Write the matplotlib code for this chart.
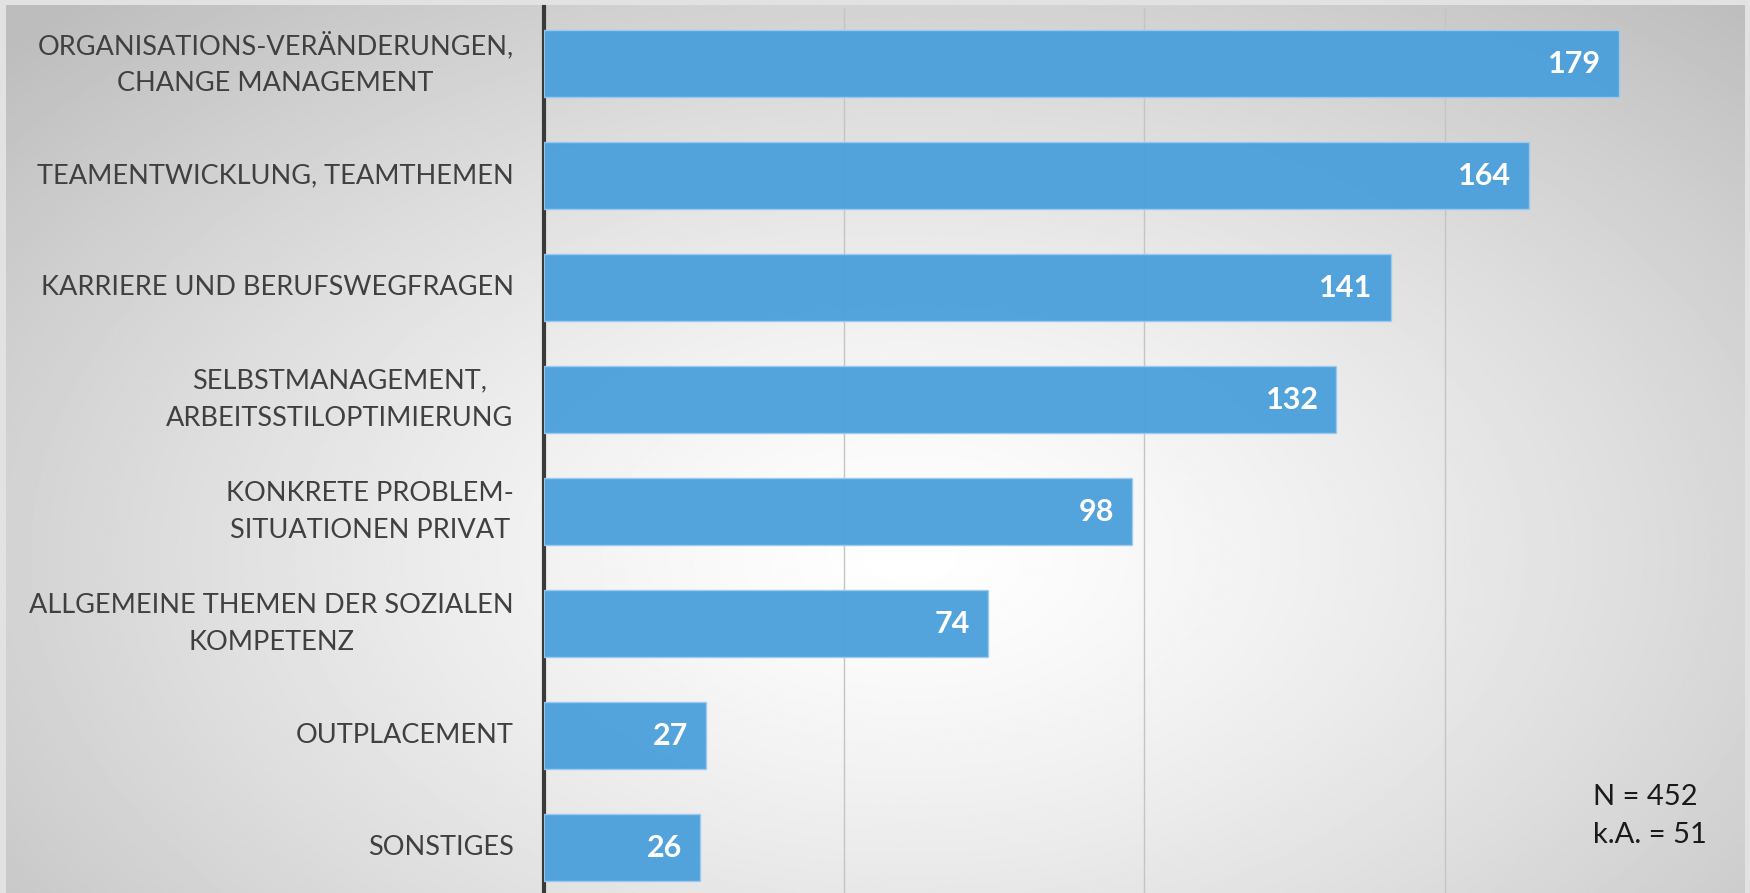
import numpy as np
import matplotlib.pyplot as plt

categories = ['ORGANISATIONS-VERÄNDERUNGEN,\nCHANGE MANAGEMENT',
              'TEAMENTWICKLUNG, TEAMTHEMEN',
              'KARRIERE UND BERUFSWEGFRAGEN',
              'SELBSTMANAGEMENT,\nARBEITSSTILOPTIMIERUNG',
              'KONKRETE PROBLEM-\nSITUATIONEN PRIVAT',
              'ALLGEMEINE THEMEN DER SOZIALEN\nKOMPETENZ',
              'OUTPLACEMENT',
              'SONSTIGES']
values = [179, 164, 141, 132, 98, 74, 27, 26]
note = 'N = 452\nk.A. = 51'

plt.rcParams['font.family'] = ['Lato', 'DejaVu Sans']

W, H = 1750, 893
fig = plt.figure(figsize=(W / 100, H / 100), dpi=100)
fig.patch.set_facecolor('#e2e2e2')

# radialer Hintergrund (hell in der Mitte, grau zum Rand)
bg = fig.add_axes([6 / W, 0, (1745 - 6) / W, 1 - 5 / H])
yy, xx = np.mgrid[0:1:400j, 0:1:800j]
r = np.sqrt(((xx - 0.52) / 0.75) ** 2 + ((yy - 0.62) / 0.9) ** 2)
g = np.clip(1.0 - 0.28 * r ** 1.3, 0.74, 1.0)
bg.imshow(g, cmap='gray', vmin=0, vmax=1, aspect='auto', extent=[0, 1, 0, 1],
          origin='upper')
bg.axis('off')

ax = fig.add_axes([543.5 / W, 0, (1745 - 543.5) / W, 1 - 7.5 / H])
ax.patch.set_alpha(0)
y = np.arange(len(values))
ax.barh(y, values, height=0.6, color='#4a9fdb', alpha=0.95,
        edgecolor='#9ccbee', linewidth=1, zorder=3)
for yi, v in zip(y, values):
    ax.text(v - 3, yi, str(v), ha='right', va='center', color='white',
            fontsize=22, fontweight='bold', zorder=4)

ax.set_xlim(0, 200)
ax.set_ylim(7.406, -0.5)
ax.set_xticks([50, 100, 150])
ax.grid(axis='x', color='#c4c4c4', linewidth=1)
ax.tick_params(left=False, bottom=False, labelbottom=False)
ax.set_yticks(y)
ax.set_yticklabels(categories, fontsize=19.5, color='#404040',
                   multialignment='center', linespacing=1.6)
for lbl in ax.get_yticklabels():
    lbl.set_verticalalignment('center')
for s in ['top', 'right', 'bottom']:
    ax.spines[s].set_visible(False)
ax.spines['left'].set_color('#3a3a3a')
ax.spines['left'].set_linewidth(3)
ax.tick_params(axis='y', pad=18)

fig.text(1593 / W, 1 - 816 / H, note, ha='left', va='center', fontsize=21,
         color='#1a1a1a', linespacing=1.55)

fig.savefig('out.png', dpi=100)
